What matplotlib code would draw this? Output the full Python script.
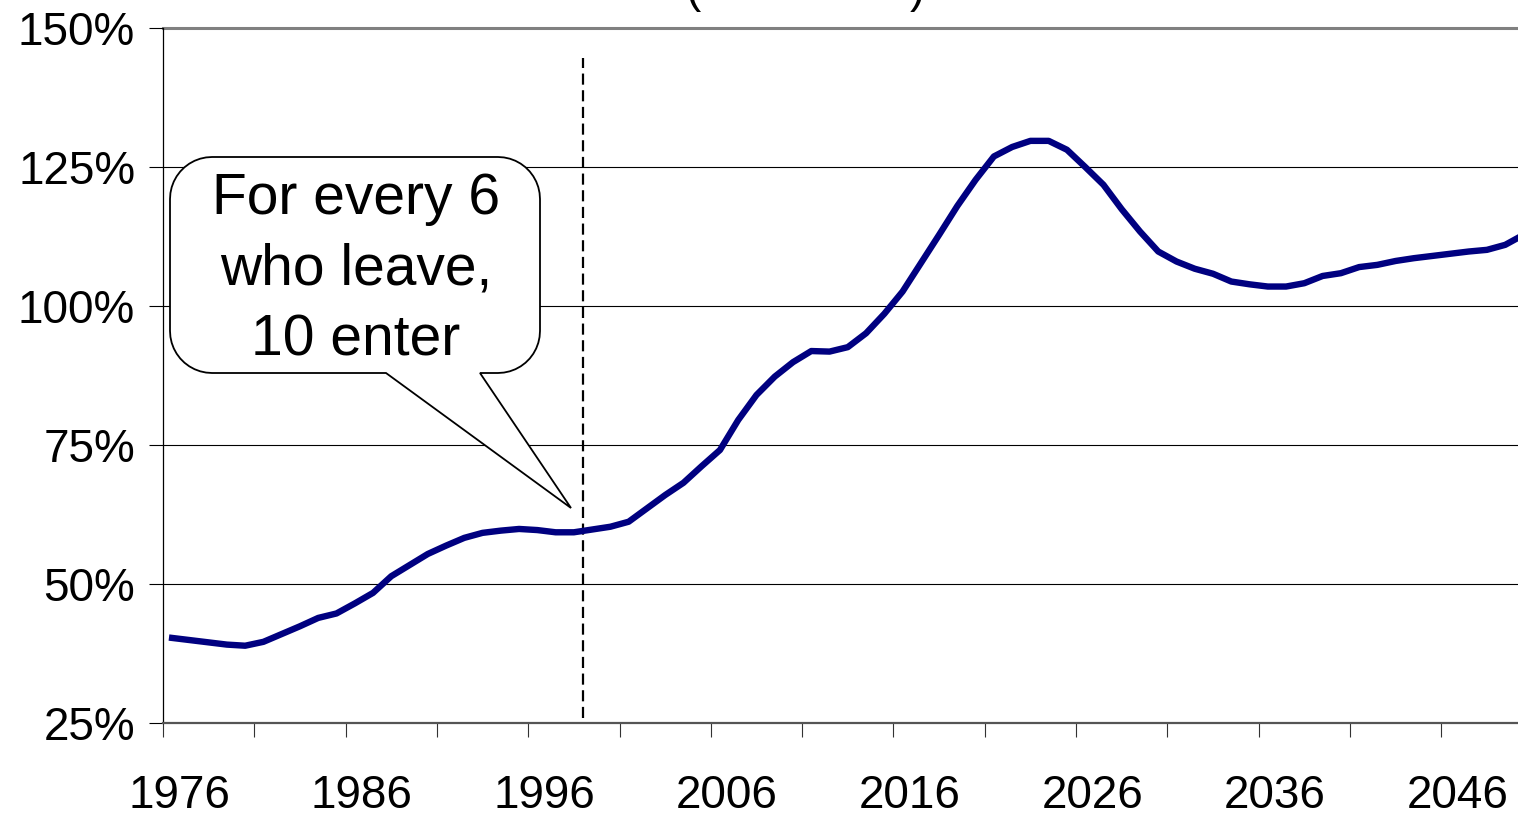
import numpy as np
from matplotlib import pyplot as plt
from matplotlib.path import Path
from matplotlib.patches import PathPatch
from matplotlib.ticker import FixedLocator, FuncFormatter
import matplotlib.transforms as mtransforms

years = list(range(1976, 2051))
ratio = [40.3, 39.9, 39.5, 39.1, 38.9, 39.6, 41.0, 42.4, 43.9, 44.7,
         46.5, 48.4, 51.4, 53.4, 55.4, 56.9, 58.3, 59.2, 59.6, 59.9,
         59.7, 59.3, 59.3, 59.8, 60.3, 61.2, 63.6, 66.0, 68.2, 71.2,
         74.1, 79.5, 84.0, 87.3, 89.9, 91.9, 91.8, 92.6, 95.1, 98.6,
         102.6, 107.7, 112.8, 118.0, 122.7, 126.9, 128.6, 129.7, 129.7, 128.1,
         125.0, 121.8, 117.4, 113.4, 109.8, 108.0, 106.7, 105.8, 104.4, 103.9,
         103.5, 103.5, 104.1, 105.4, 105.9, 107.0, 107.4, 108.1, 108.6, 109.0,
         109.4, 109.8, 110.1, 111.0, 112.8]
yticks = [25, 50, 75, 100, 125, 150]
label_years = [1976, 1986, 1996, 2006, 2016, 2026, 2036, 2046]
callout_lines = ['For every 6', 'who leave,', '10 enter']

W, H = 1518, 817
FONT = 'Liberation Sans'
plt.rcParams['font.family'] = [FONT, 'DejaVu Sans']

fig = plt.figure(figsize=(W / 100, H / 100), dpi=100)
ax = fig.add_axes([163 / W, (H - 723) / H, 1 - 163 / W, (723 - 28) / H])

x = np.arange(len(years))
ax.plot(x, ratio, color='#000080', lw=4.6, solid_joinstyle='round', zorder=3)

ax.set_xlim(-0.5, 73.7)
ax.set_ylim(25, 150)

# gridlines
for v in yticks[1:-1]:
    ax.axhline(v, color='black', lw=0.8, zorder=1)
ax.axhline(150, color='#808080', lw=2.2, zorder=1, clip_on=False)

for s in ['top', 'right']:
    ax.spines[s].set_visible(False)
ax.spines['left'].set_linewidth(0.9)
ax.spines['bottom'].set_color('#555555')
ax.spines['bottom'].set_linewidth(1.6)

ax.set_yticks(yticks)
ax.yaxis.set_major_formatter(FuncFormatter(lambda v, p: '%d%%' % v))
ax.tick_params(axis='y', length=10, width=0.8, pad=10, labelsize=33, direction='out')

# category boundaries as tick marks, year labels at centres
ax.xaxis.set_major_locator(FixedLocator(np.arange(-0.5, 74, 5)))
ax.xaxis.set_major_formatter(FuncFormatter(lambda v, p: ''))
ax.xaxis.set_minor_locator(FixedLocator([y - years[0] for y in label_years]))
ax.xaxis.set_minor_formatter(FuncFormatter(lambda v, p: str(int(v) + years[0])))
ax.tick_params(axis='x', which='major', length=10, width=0.8, color='#333333')
ax.tick_params(axis='x', which='minor', length=0, pad=37, labelsize=33)
off = mtransforms.ScaledTranslation(7 / 100, 0, fig.dpi_scale_trans)
for lab in ax.xaxis.get_minorticklabels():
    lab.set_transform(lab.get_transform() + off)

# dashed marker between 1998 and 1999
ax.axvline(22.5, ymin=(723 - 718) / 695, ymax=(723 - 58) / 695,
           color='black', lw=1.6, ls=(0, (5, 2.5)), zorder=2)

# callout bubble, built in pixel space
def px(xp, yp):
    return (xp / W, (H - yp) / H)

L, R, T, B, r = 170, 540, 157, 373, 42
tip = (571, 508)
base = (386, 480)
pts = []
def arc(cx, cy, a0, a1):
    for a in np.linspace(a0, a1, 12):
        pts.append(px(cx + r * np.cos(a), cy - r * np.sin(a)))
pts.append(px(L + r, T))
pts.append(px(R - r, T))
arc(R - r, T + r, np.pi / 2, 0)
pts.append(px(R, B - r))
arc(R - r, B - r, 0, -np.pi / 2)
pts.append(px(base[1], B))
pts.append(px(*tip))
pts.append(px(base[0], B))
pts.append(px(L + r, B))
arc(L + r, B - r, -np.pi / 2, -np.pi)
pts.append(px(L, T + r))
arc(L + r, T + r, np.pi, np.pi / 2)
pts.append(pts[0])
codes = [Path.MOVETO] + [Path.LINETO] * (len(pts) - 2) + [Path.CLOSEPOLY]
bubble = PathPatch(Path(pts, codes), transform=fig.transFigure,
                   facecolor='white', edgecolor='black', lw=1.3, zorder=5)
fig.patches.append(bubble)

for line, base_y in zip(callout_lines, [214, 284, 355]):
    fig.text(356 / W, (H - base_y) / H, line, ha='center', va='baseline',
             fontsize=41, zorder=6)

# title cut off by the top edge, only its brackets show
fig.text(693 / W, 1 - 2 / H, '(', ha='center', va='baseline', fontsize=33)
fig.text(917 / W, 1 - 2 / H, ')', ha='center', va='baseline', fontsize=33)

fig.savefig('out.png', dpi=100)
